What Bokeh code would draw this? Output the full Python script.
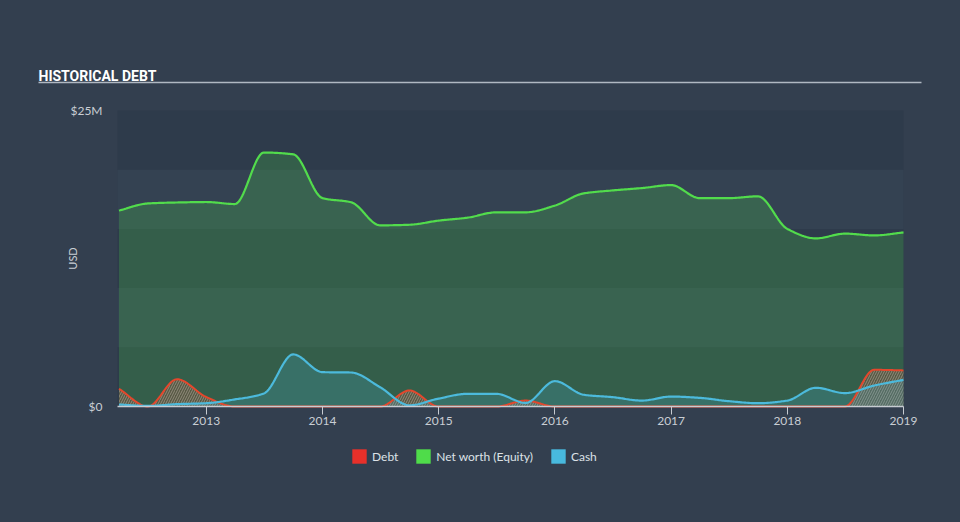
import numpy as np
import pandas as pd
from math import pi
from bokeh.plotting import figure
from bokeh.models import FixedTicker, Legend, LegendItem, BoxAnnotation, Label
from bokeh.embed import file_html
from bokeh.resources import INLINE

# ---------------- data (USD millions, quarter ends) ----------------
quarters = ["2012-03-31", "2012-06-30", "2012-09-30", "2012-12-31",
            "2013-03-31", "2013-06-30", "2013-09-30", "2013-12-31",
            "2014-03-31", "2014-06-30", "2014-09-30", "2014-12-31",
            "2015-03-31", "2015-06-30", "2015-09-30", "2015-12-31",
            "2016-03-31", "2016-06-30", "2016-09-30", "2016-12-31",
            "2017-03-31", "2017-06-30", "2017-09-30", "2017-12-31",
            "2018-03-31", "2018-06-30", "2018-09-30", "2018-12-31"]
net_worth = [16.55, 17.15, 17.23, 17.27, 17.1, 21.45, 21.3, 17.6,
             17.25, 15.3, 15.35, 15.7, 15.95, 16.4, 16.4, 16.97,
             18.0, 18.25, 18.45, 18.7, 17.6, 17.6, 17.75, 15.0,
             14.2, 14.6, 14.45, 14.7]
debt = [1.5, 0.0, 2.3, 0.8, 0.0, 0.0, 0.0, 0.0,
        0.0, 0.0, 1.35, 0.0, 0.0, 0.0, 0.5, 0.0,
        0.0, 0.0, 0.0, 0.0, 0.0, 0.0, 0.0, 0.0,
        0.0, 0.0, 3.1, 3.05]
cash = [0.17, 0.05, 0.2, 0.28, 0.6, 1.1, 4.4, 2.9,
        2.87, 1.63, 0.1, 0.67, 1.07, 1.07, 0.3, 2.14,
        0.99, 0.79, 0.5, 0.84, 0.73, 0.45, 0.28, 0.5,
        1.58, 1.13, 1.77, 2.25]
year_ticks = [2013, 2014, 2015, 2016, 2017, 2018, 2019]
y_ticks = [0, 25]
y_tick_labels = {0: "$0", 25: "$25M"}
band_edges = [0, 5, 10, 15, 20, 25]
series_names = ["Debt", "Net worth (Equity)", "Cash"]
title_text = "HISTORICAL DEBT"
y_axis_name = "USD"

# ---------------- helpers ----------------
ts = pd.to_datetime(quarters)
t = np.array([d.year + d.dayofyear / (366 if d.is_leap_year else 365) for d in ts])
X_MIN, X_MAX = 2012.236, float(t[-1])      # plotted period
Y_MIN, Y_MAX = 0, 25                       # value axis


def monotone(x, y, n=24):
    """Monotone cubic (Fritsch-Carlson) rendering of a series, like d3 curveMonotoneX."""
    x = np.asarray(x, float)
    y = np.asarray(y, float)
    h = np.diff(x)
    d = np.diff(y) / h
    m = np.zeros_like(y)
    m[0], m[-1] = d[0], d[-1]
    for i in range(1, len(y) - 1):
        if d[i - 1] * d[i] <= 0:
            m[i] = 0.0
        else:
            w1 = 2 * h[i] + h[i - 1]
            w2 = h[i] + 2 * h[i - 1]
            m[i] = (w1 + w2) / (w1 / d[i - 1] + w2 / d[i])
    xs, ys = [], []
    for i in range(len(x) - 1):
        s = np.linspace(0, 1, n, endpoint=False)
        h00 = 2 * s**3 - 3 * s**2 + 1
        h10 = s**3 - 2 * s**2 + s
        h01 = -2 * s**3 + 3 * s**2
        h11 = s**3 - s**2
        xs.append(x[i] + s * h[i])
        ys.append(h00 * y[i] + h10 * h[i] * m[i] + h01 * y[i + 1] + h11 * h[i] * m[i + 1])
    xs.append([x[-1]])
    ys.append([y[-1]])
    return np.concatenate(xs), np.concatenate(ys)


xs, nw_s = monotone(t, net_worth)
_, debt_s = monotone(t, debt)
_, cash_s = monotone(t, cash)
debt_s = np.clip(debt_s, 0, None)
cash_s = np.clip(cash_s, 0, None)

# ---------------- page geometry (pixels) ----------------
W, H = 960, 522
FL, FB = 37, 30                 # left / bottom border panels
PL, PR, PT, PB = 117, 903, 110, 406   # plot-area box on the page
sx = (PR - PL) / (X_MAX - X_MIN)
sy = (PB - PT) / (Y_MAX - Y_MIN)
x_start = X_MIN - (PL - FL) / sx
x_end = X_MAX + (W - PR) / sx
y_start = Y_MIN - (H - FB - PB) / sy
y_end = Y_MAX + PT / sy


def px2x(px):
    return x_start + (px - FL) / sx


def py2y(py):
    return y_start + (H - FB - py) / sy


BG = "#333f4f"
FONT = "Lato"
TXT = "#c9ced4"

p = figure(width=W, height=H, output_backend="svg", toolbar_location=None, title=None,
           x_range=(x_start, x_end), y_range=(y_start, y_end),
           min_border_left=FL, min_border_right=0,
           min_border_top=0, min_border_bottom=FB)
# page colour comes from the element itself, so no seams show between fill regions
p.styles = {"background-color": BG}
p.background_fill_alpha = 0
p.border_fill_alpha = 0
p.outline_line_color = None
p.grid.visible = False

# plot-area background with alternating 5M bands
p.add_layout(BoxAnnotation(left=X_MIN, right=X_MAX, bottom=Y_MIN, top=Y_MAX,
                           fill_color="#2e3b4b", fill_alpha=1, line_color=None,
                           level="underlay"))
for lo, hi in zip(band_edges[:-1], band_edges[1:]):
    if (lo // 5) % 2 == 1:
        p.add_layout(BoxAnnotation(left=X_MIN, right=X_MAX, bottom=lo, top=hi,
                                   fill_color="#344252", fill_alpha=1, line_color=None,
                                   level="underlay"))

# glyphs
p.varea(x=xs, y1=0, y2=nw_s, fill_color="#4cd94a", fill_alpha=0.22)
p.line(xs, nw_s, line_color="#52dc4c", line_width=2.2)
p.varea(x=xs, y1=0, y2=debt_s, fill_color="#e8452b", fill_alpha=0.2,
        hatch_pattern="/", hatch_color="#c0b0a8", hatch_alpha=0.55,
        hatch_scale=5, hatch_weight=1)
p.varea(x=xs, y1=0, y2=cash_s, fill_color="#4cbadc", fill_alpha=0.2)
p.line(xs, debt_s, line_color="#e4472c", line_width=2)
p.line(xs, cash_s, line_color="#4cbadc", line_width=2.2)

# x axis, drawn at y = 0 and limited to the plotted period
xa = p.xaxis[0]
xa.fixed_location = Y_MIN
xa.bounds = (X_MIN, X_MAX)
xa.ticker = FixedTicker(ticks=year_ticks)
xa.major_label_overrides = {y: str(y) for y in year_ticks}
xa.axis_line_color = "#c7ccd2"
xa.axis_line_width = 1.5
xa.major_tick_line_color = "#c7ccd2"
xa.major_tick_out = 8
xa.major_tick_in = 0
xa.minor_tick_line_color = None
xa.major_label_text_color = TXT
xa.major_label_text_font = FONT
xa.major_label_text_font_size = "12px"
xa.major_label_standoff = 2

# y axis: labels only, right edge 15px left of the plot area
ya = p.yaxis[0]
ya.fixed_location = px2x(PL - 15)
ya.ticker = FixedTicker(ticks=y_ticks)
ya.major_label_overrides = y_tick_labels
ya.axis_line_color = None
ya.major_tick_line_color = None
ya.major_tick_out = 0
ya.major_tick_in = 0
ya.minor_tick_line_color = None
ya.major_label_text_color = TXT
ya.major_label_text_font = FONT
ya.major_label_text_font_size = "12px"
ya.major_label_standoff = 0

# title, rule and axis name
p.add_layout(Label(x=px2x(38), y=py2y(75), text=title_text, text_color="#ffffff",
                   text_font="Roboto", text_font_style="bold", text_font_size="14px",
                   text_baseline="alphabetic"))
p.add_layout(BoxAnnotation(left=px2x(38), right=px2x(921), top=py2y(81.2), bottom=py2y(82.8),
                           fill_color="#b0b8c2", fill_alpha=1, line_color=None))
p.add_layout(Label(x=px2x(72), y=py2y(258), text=y_axis_name, angle=pi / 2,
                   text_color=TXT, text_font=FONT, text_font_size="11px",
                   text_align="center", text_baseline="middle"))

# legend: solid swatches from hidden rect renderers of each series
colors = ["#e8302a", "#4fdc4a", "#48b9de"]
series_vals = [debt, net_worth, cash]
items = []
for name, c, vals in zip(series_names, colors, series_vals):
    r = p.rect(x=t, y=vals, width=0, height=0, fill_color=c, line_color=None,
               visible=False)
    items.append(LegendItem(label=name, renderers=[r], index=0))
legend = Legend(items=items, orientation="horizontal",
                location=(350 - FL, H - FB - 465),
                padding=0, margin=0, spacing=16, label_standoff=4,
                glyph_width=18, glyph_height=18, label_height=18,
                label_text_font=FONT, label_text_font_size="12px",
                label_text_color="#dde2e7", background_fill_alpha=0,
                border_line_alpha=0, click_policy="none")
p.add_layout(legend)

open("out.html", "w").write(file_html(p, INLINE))
